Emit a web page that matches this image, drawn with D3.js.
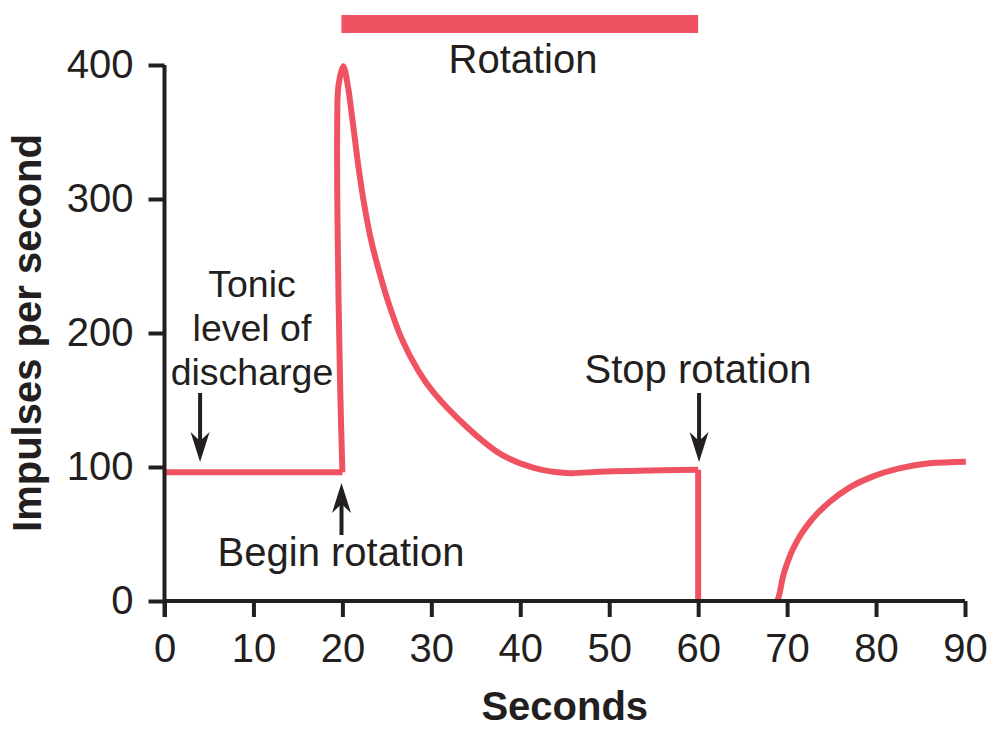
<!DOCTYPE html>
<html>
<head>
<meta charset="utf-8">
<script src="https://cdn.jsdelivr.net/npm/d3@7/dist/d3.min.js"></script>
<style>
  html, body { margin: 0; padding: 0; background: #fff; }
  svg text { font-family: "Liberation Sans", Arial, Helvetica, sans-serif; fill: #231f20; }
</style>
</head>
<body>
<svg id="chart" width="1005" height="735"></svg>
<script>
// ---- data ----
const xTicks = [0, 10, 20, 30, 40, 50, 60, 70, 80, 90];
const yTicks = [0, 100, 200, 300, 400];

// tonic level before rotation
const baseTime = [0, 20.0];
const baseRate = [96, 96];

// rotation: fast rise to the peak, then adaptation back to the tonic level
const rotTime = [20.0, 19.75, 19.45, 19.42, 19.55, 20.1, 20.65, 20.92, 21.4, 21.89, 22.45, 23.17, 24.13, 25.26, 26.65, 28.52, 30.2, 33.96, 37.7, 41.44, 45.2, 48.9, 52, 56, 60];
const rotRate = [96, 160, 283, 358, 384, 399, 383, 370, 345, 320, 296, 271, 246, 221, 196, 172, 156, 130, 110, 99.5, 95.5, 96.5, 97, 97.5, 98];

// stop rotation: firing drops to zero (silent on the axis until recovery)
const stopTime = [60, 60];
const stopRate = [98, 0];

// recovery
const recTime = [68.8, 69.0, 69.53, 70.28, 71.4, 72.9, 74.8, 77.0, 79.6, 82.6, 86.0, 90.1];
const recRate = [0, 2, 18, 33, 48, 61.7, 74, 84.6, 92.8, 99, 102.8, 104];

const rotationPeriod = [20, 60];

// ---- layout ----
const svg = d3.select("#chart");
const red = "#ef5362";
const ink = "#231f20";
const FS = 40;
const x = d3.scaleLinear().domain([0, 90]).range([164.5, 965]);
const y = d3.scaleLinear().domain([0, 400]).range([601, 65]);

const zip = (t, r) => t.map((d, i) => [d, r[i]]);

// rotation bar
svg.append("rect").attr("x", x(rotationPeriod[0]) - 1).attr("y", 15)
  .attr("width", x(rotationPeriod[1]) - x(rotationPeriod[0]) + 1).attr("height", 18)
  .attr("fill", red);
svg.append("text").attr("x", 523).attr("y", 73).attr("text-anchor", "middle")
  .attr("font-size", FS).text("Rotation");

// response line
const linear = d3.line().x(d => x(d[0])).y(d => y(d[1]));
const catmull = d3.line().x(d => x(d[0])).y(d => y(d[1])).curve(d3.curveCatmullRom.alpha(0.5));
const mono = d3.line().x(d => x(d[0])).y(d => y(d[1])).curve(d3.curveMonotoneX);

const lineG = svg.append("g").attr("fill", "none").attr("stroke", red)
  .attr("stroke-width", 6).attr("stroke-linejoin", "miter");
lineG.append("path").attr("d", linear(zip(baseTime, baseRate)));
lineG.append("path").attr("d", catmull(zip(rotTime, rotRate)));
lineG.append("path").attr("d", linear(zip(stopTime, stopRate)));
lineG.append("path").attr("d", mono(zip(recTime, recRate)));

// axes (drawn over the line)
const xAxis = d3.axisBottom(x).tickValues(xTicks).tickSize(16).tickSizeOuter(0).tickPadding(17);
const yAxis = d3.axisLeft(y).tickValues(yTicks).tickSize(16).tickSizeOuter(0).tickPadding(15);

const gx = svg.append("g").attr("transform", `translate(0,${y(0)})`).call(xAxis);
const gy = svg.append("g").attr("transform", `translate(${x(0)},0)`).call(yAxis);
[gx, gy].forEach(g => {
  g.select(".domain").attr("stroke", ink).attr("stroke-width", 4);
  g.selectAll(".tick line").attr("stroke", ink).attr("stroke-width", 4);
  g.selectAll(".tick text").attr("font-size", FS).attr("fill", ink)
    .attr("font-family", '"Liberation Sans", Arial, Helvetica, sans-serif');
});
gx.select(".domain").attr("d", `M${x(0)},0H${x(90)}`);
gy.select(".domain").attr("d", `M0,${y(400)}V${y(0) + 16}`);

// axis titles
svg.append("text").attr("x", (x(0) + x(90)) / 2).attr("y", 720)
  .attr("text-anchor", "middle").attr("font-size", FS).attr("font-weight", "bold")
  .text("Seconds");
svg.append("text").attr("transform", `translate(41,${(y(0) + y(400)) / 2}) rotate(-90)`)
  .attr("text-anchor", "middle").attr("font-size", FS).attr("font-weight", "bold")
  .text("Impulses per second");

// annotations
function arrow(px, yFrom, yTip) {
  const dir = yTip > yFrom ? 1 : -1;
  const g = svg.append("g");
  g.append("line").attr("x1", px).attr("x2", px).attr("y1", yFrom).attr("y2", yTip - dir * 20)
    .attr("stroke", ink).attr("stroke-width", 4);
  g.append("path")
    .attr("d", `M${px},${yTip} L${px - 9.5},${yTip - dir * 30} L${px},${yTip - dir * 21} L${px + 9.5},${yTip - dir * 30} Z`)
    .attr("fill", ink);
}

const tonic = svg.append("text").attr("text-anchor", "middle").attr("font-size", 37.5);
["Tonic", "level of", "discharge"].forEach((s, i) => {
  tonic.append("tspan").attr("x", 252).attr("y", 297 + i * 44).text(s);
});
arrow(x(4), 393, 462);

svg.append("text").attr("x", 341).attr("y", 566).attr("text-anchor", "middle")
  .attr("font-size", FS).text("Begin rotation");
arrow(x(19.9), 535, 483);

svg.append("text").attr("x", 698).attr("y", 383).attr("text-anchor", "middle")
  .attr("font-size", FS).text("Stop rotation");
arrow(x(60.1), 393, 462);
</script>
</body>
</html>
